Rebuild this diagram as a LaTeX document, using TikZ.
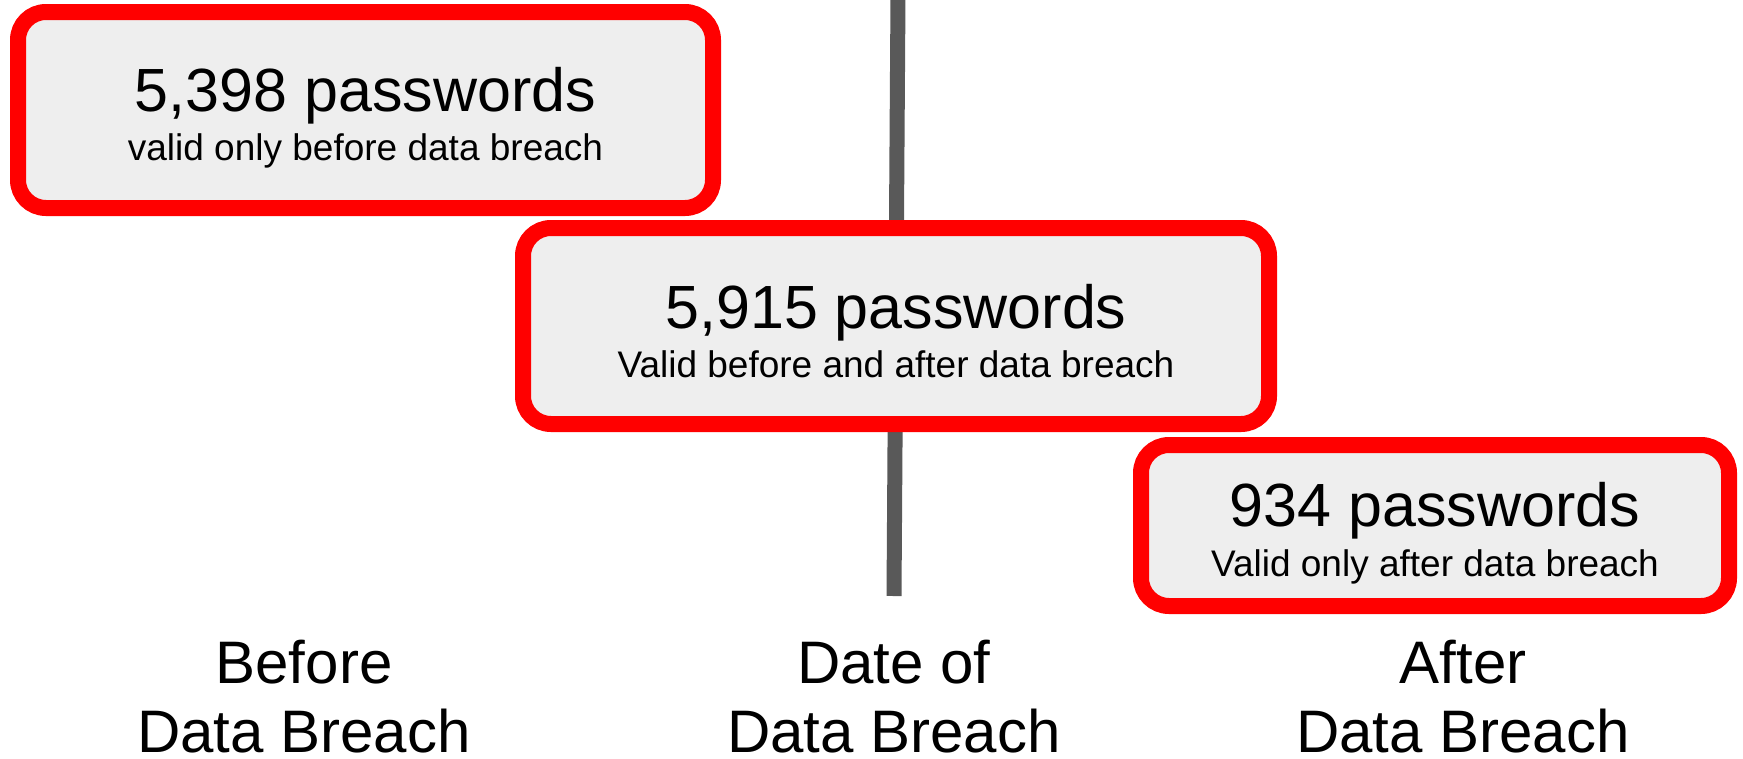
\documentclass[tikz,border=0pt]{standalone}
\usepackage{fontspec}
\setmainfont{Liberation Sans}
\usetikzlibrary{calc}
\definecolor{boxred}{HTML}{FF0000}
\definecolor{boxfill}{HTML}{EEEEEE}
\definecolor{linegray}{HTML}{595959}
\tikzset{
  countbox/.style={draw=boxred, fill=boxfill, line width=16pt, rounded corners=28pt, inner sep=0pt},
  maintext/.style={anchor=base, inner sep=0pt, font=\fontsize{61}{61}\selectfont},
  subtext/.style={anchor=base, inner sep=0pt, font=\fontsize{37}{37}\selectfont},
  labeltext/.style={anchor=base, inner sep=0pt, font=\fontsize{60}{60}\selectfont},
  timeline/.style={draw=linegray, line width=15pt}
}
\begin{document}
\begin{tikzpicture}[x=1pt,y=-1pt]
\useasboundingbox (0,0) rectangle (1743,758);
\coordinate (ltop) at (898,-5);
\coordinate (lbot) at (894,596);
\draw[timeline] (ltop) -- (lbot);

\node[countbox, minimum width=695pt, minimum height=196pt] (b1) at (365.5,110) {};
\node[maintext] (b1m) at ($(b1.center)+(0,1)$) {5,398 passwords};
\node[subtext] (b1s) at ($(b1.center)+(0,50)$) {valid only before data breach};

\node[countbox, minimum width=746pt, minimum height=196pt] (b2) at (896,326) {};
\node[maintext] (b2m) at ($(b2.center)+(0,2)$) {5,915 passwords};
\node[subtext] (b2s) at ($(b2.center)+(0,51)$) {Valid before and after data breach};

\node[countbox, minimum width=588pt, minimum height=161pt] (b3) at (1435,525.5) {};
\node[maintext] (b3m) at ($(b3.center)+(0,1)$) {934 passwords};
\node[subtext] (b3s) at ($(b3.center)+(0,51)$) {Valid only after data breach};

\node[labeltext] (l1a) at (304,683) {Before};
\node[labeltext] (l1b) at (304,752) {Data Breach};
\node[labeltext] (l2a) at (894,683) {Date of};
\node[labeltext] (l2b) at (894,752) {Data Breach};
\node[labeltext] (l3a) at (1463,683) {After};
\node[labeltext] (l3b) at (1463,752) {Data Breach};
\end{tikzpicture}
\end{document}
